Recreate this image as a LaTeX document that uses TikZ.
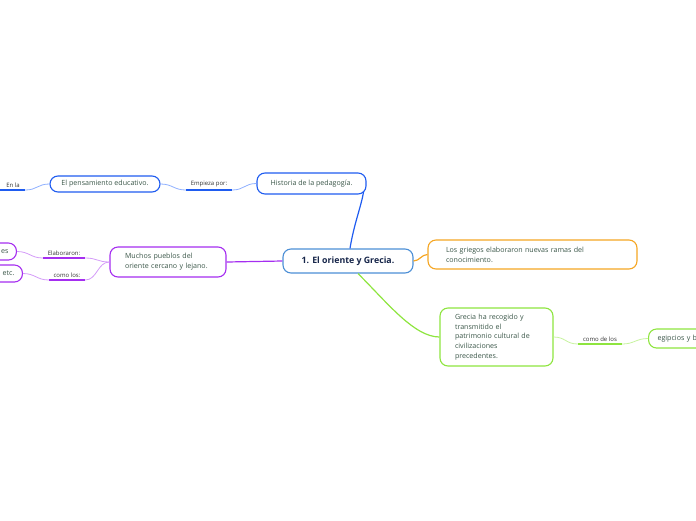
\documentclass[tikz,border=0pt]{standalone}
\usepackage{fontspec}
\setmainfont{Open Sans}
\usetikzlibrary{positioning,calc}
\definecolor{mmblue}{HTML}{1F5CF0}
\definecolor{mmbluelt}{HTML}{8FB0FF}
\definecolor{mmcore}{HTML}{4C8FD6}
\definecolor{mmpurple}{HTML}{A52EF0}
\definecolor{mmpurplelt}{HTML}{D49CF8}
\definecolor{mmorange}{HTML}{F5A623}
\definecolor{mmgreen}{HTML}{8EE53F}
\definecolor{mmgreenlt}{HTML}{C7F39F}
\definecolor{mmtext}{HTML}{3A5648}
\definecolor{mmnavy}{HTML}{17264A}
\tikzset{
  topicbox/.style ={rectangle, rounded corners=8pt, draw, line width=1.1pt,
                    fill=white, font=\fontsize{7.1}{9.8}\selectfont, text=mmtext,
                    inner xsep=9pt, inner ysep=3pt, align=left},
  corebox/.style  ={topicbox, draw=mmcore, text=mmnavy, align=center,
                    font=\fontsize{8.8}{10}\selectfont\bfseries,
                    minimum width=130pt, minimum height=24pt},
  linklabel/.style={rectangle, font=\fontsize{6}{7}\selectfont, text=black!80,
                    inner xsep=0pt, inner ysep=2.5pt, anchor=south},
  underline/.style={line width=1.7pt},
  branch/.style   ={line width=1.2pt},
  twig/.style     ={line width=0.8pt}
}

\begin{document}
\begin{tikzpicture}[x=1pt, y=-1pt]
  \useasboundingbox (0,0) rectangle (696,520);

  % ---------------- topics ----------------
  \node[corebox] (core) at (348,261) {1. El oriente y Grecia.};
  \node[topicbox, draw=mmblue, align=center, minimum width=109pt,
        minimum height=21pt] (hist) at (311.5,183.5) {Historia de la pedagogía.};
  \node[topicbox, draw=mmblue, align=center, minimum width=110pt,
        minimum height=16pt] (pens) at (105,184) {El pensamiento educativo.};
  \node[topicbox, draw=mmpurple, text width=86pt, inner xsep=15pt,
        minimum height=30pt] (pueblos) at (168,262)
        {Muchos pueblos del\\oriente cercano y lejano.};
  \node[topicbox, draw=mmorange, text width=173pt, inner xsep=18pt,
        minimum height=29pt] (griegos) at (532.5,254.5)
        {Los griegos elaboraron nuevas ramas del\\conocimiento.};
  \node[topicbox, draw=mmgreen, text width=83pt, inner xsep=15pt,
        minimum height=58pt] (grecia) at (496.5,337)
        {Grecia ha recogido y\\transmitido el\\patrimonio cultural de\\civilizaciones\\precedentes.};

  % cut at the page edge
  \node[topicbox, draw=mmpurple, text width=40pt, align=right, inner xsep=8pt,
        minimum height=17pt, anchor=east] (es) at (17,251.5) {es};
  \node[topicbox, draw=mmpurple, text width=40pt, align=right, inner xsep=8pt,
        minimum height=17pt, anchor=east] (etc) at (23,273.5) {etc.};
  \node[topicbox, draw=mmgreen, text width=80pt, inner xsep=9pt,
        minimum height=19pt, anchor=west] (egip) at (648,338.5) {egipcios y b};

  % ---------------- labels ----------------
  \node[linklabel, minimum width=46pt] (empieza) at (209,190) {Empieza por:};
  \node[linklabel, minimum width=46pt] (enla)    at (2,190)   {\hspace*{22pt}En la};
  \node[linklabel, minimum width=42pt] (elab)    at (64,258)  {Elaboraron:};
  \node[linklabel, minimum width=36pt] (comolos) at (67,280)  {como los:};
  \node[linklabel, minimum width=44pt] (comode)  at (600,344) {como de los};

  \draw[underline, mmblue]   (empieza.south west) -- (empieza.south east);
  \draw[underline, mmblue]   (enla.south west)    -- (enla.south east);
  \draw[underline, mmpurple] (elab.south west)    -- (elab.south east);
  \draw[underline, mmpurple] (comolos.south west) -- (comolos.south east);
  \draw[underline, mmgreen]  (comode.south west)  -- (comode.south east);

  % ---------------- main branches ----------------
  \draw[branch, mmblue] ($(core.north)+(2,0)$) .. controls +(4,-25) and +(-2,14) ..
        ($(hist.south east)+(-3,-3)$);
  \draw[branch, mmpurple] (core.west) -- (pueblos.east);
  \draw[branch, mmorange] (core.east) .. controls +(6,0) and +(-6,0) .. (griegos.west);
  \draw[branch, mmgreen] ($(core.south)+(10,0)$) .. controls +(30,30) and +(-25,0) ..
        (grecia.west);

  % ---------------- twigs ----------------
  \draw[twig, mmbluelt] (hist.west) .. controls +(-12,0) and +(12,0) .. (empieza.south east);
  \draw[twig, mmbluelt] (empieza.south west) .. controls +(-12,0) and +(12,0) .. (pens.east);
  \draw[twig, mmbluelt] (pens.west) .. controls +(-12,0) and +(12,0) .. (enla.south east);
  \draw[twig, mmpurplelt] (pueblos.west) .. controls +(-12,0) and +(12,0) .. (elab.south east);
  \draw[twig, mmpurplelt] (pueblos.west) .. controls +(-12,0) and +(12,0) .. (comolos.south east);
  \draw[twig, mmpurplelt] (elab.south west) .. controls +(-12,0) and +(12,0) .. (es.east);
  \draw[twig, mmpurplelt] (comolos.south west) .. controls +(-12,0) and +(12,0) .. (etc.east);
  \draw[twig, mmgreenlt] (grecia.east) .. controls +(12,0) and +(-12,0) .. (comode.south west);
  \draw[twig, mmgreenlt] (comode.south east) .. controls +(12,0) and +(-12,0) .. (egip.west);
\end{tikzpicture}
\end{document}
